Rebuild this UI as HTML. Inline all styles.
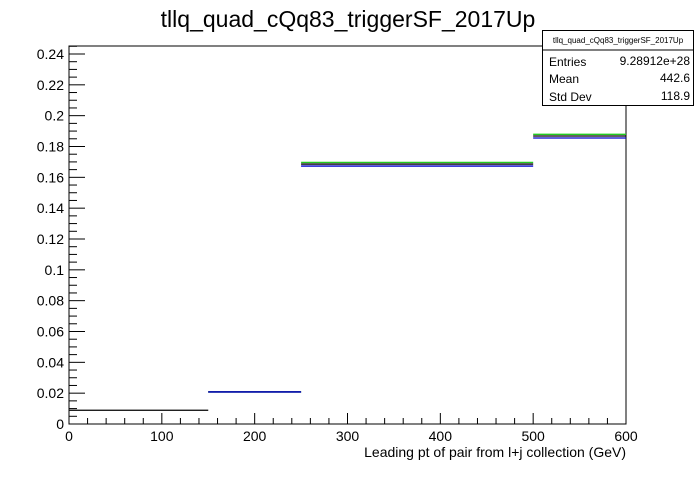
<!DOCTYPE html>
<html><head><meta charset="utf-8"><style>
body{margin:0;background:#fff;font-family:"Liberation Sans",sans-serif}
</style></head><body>
<svg width="696" height="472" xmlns="http://www.w3.org/2000/svg" font-family="Liberation Sans, sans-serif">
<text x="348" y="27" text-anchor="middle" font-size="23">tllq_quad_cQq83_triggerSF_2017Up</text>
<rect x="69" y="46" width="557" height="378" fill="none" stroke="#000"/>
<g id="axes"></g>
<g id="series"></g>
<text x="626" y="457" text-anchor="end" font-size="14">Leading pt of pair from l+j collection (GeV)</text>
<g>
<rect x="542.5" y="30.5" width="151" height="75" fill="#fff" stroke="#000"/>
<line x1="542.5" y1="50" x2="693.5" y2="50" stroke="#000"/>
<text x="618" y="43" text-anchor="middle" font-size="8">tllq_quad_cQq83_triggerSF_2017Up</text>
<text x="549" y="66" font-size="12">Entries</text><text x="690" y="65" font-size="12" text-anchor="end">9.28912e+28</text>
<text x="549" y="83" font-size="12">Mean</text><text x="690" y="82" font-size="12" text-anchor="end">442.6</text>
<text x="549" y="101" font-size="12">Std Dev</text><text x="690" y="100" font-size="12" text-anchor="end">118.9</text>
</g>
</svg>
<script>
const binEdges=[0,150,250,500,600];
const blackVals=[0.0089,0.0208,0.1686,0.1868];
const greenVals=[null,0.0208,0.1697,0.1879];
const blueVals=[null,0.0208,0.1673,0.1855];
const xTicks=[0,100,200,300,400,500,600];
const yTicks=[0,0.02,0.04,0.06,0.08,0.1,0.12,0.14,0.16,0.18,0.2,0.22,0.24];
const yLabels=["0","0.02","0.04","0.06","0.08","0.1","0.12","0.14","0.16","0.18","0.2","0.22","0.24"];
const NS="http://www.w3.org/2000/svg";
function X(v){return 69+v*(557/600);}
function Y(v){return 424-v*1541.7;}
function mk(tag,attrs,parent,txt){const e=document.createElementNS(NS,tag);for(const k in attrs)e.setAttribute(k,attrs[k]);if(txt!==undefined)e.textContent=txt;parent.appendChild(e);return e;}
const ax=document.getElementById('axes');
for(let v=0;v<=600.001;v+=20){const major=Math.abs(v%100)<1e-6;
 const t=mk('line',{x1:X(v),x2:X(v),y1:424,y2:424-(major?11:6),stroke:'#000'},ax);
 
 }
xTicks.forEach(v=>{const t=mk('text',{x:X(v),y:441,'text-anchor':'middle','font-size':14},ax,String(v));
 
 });
for(let i=0;i<=49;i++){const v=i*0.005;const major=i%4===0;
 const t=mk('line',{x1:69,x2:69+(major?16:8),y1:Y(v),y2:Y(v),stroke:'#000'},ax);
 
 }
yTicks.forEach((v,i)=>{const t=mk('text',{x:64,y:Y(v)+5,'text-anchor':'end','font-size':14},ax,yLabels[i]);
 
 });
const sg=document.getElementById('series');
function draw(vals,color,name){vals.forEach((v,i)=>{if(v===null)return;
 const l=mk('line',{x1:X(binEdges[i]),x2:X(binEdges[i+1]),y1:Y(v),y2:Y(v),stroke:color,'stroke-width':1.3},sg);
 
 });}
draw(greenVals,'#22cc22','green-hist');
draw(blackVals,'#000000','black-hist');
draw(blueVals,'#0000cc','blue-hist');
</script>
</body></html>
